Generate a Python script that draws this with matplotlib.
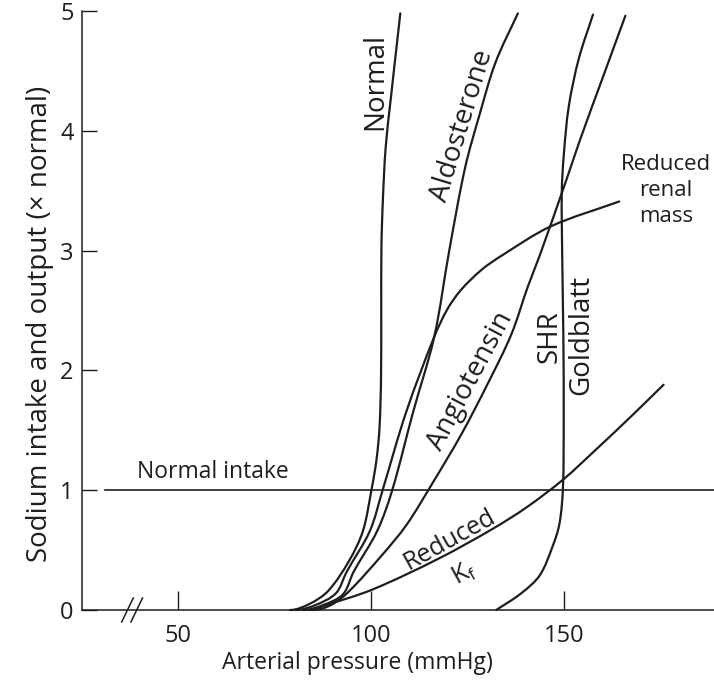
import math
import matplotlib
matplotlib.use("Agg")
import matplotlib.pyplot as plt
from matplotlib.path import Path
from matplotlib.patches import PathPatch

plt.rcParams['font.family'] = ['Open Sans', 'DejaVu Sans']
plt.rcParams['mathtext.fontset'] = 'custom'
plt.rcParams['mathtext.rm'] = 'Open Sans'

# ---- data ----
normal_x = [79.0, 84.0, 88.9, 94.3, 97.9, 100.1, 101.4, 102.2, 102.6, 102.7, 103.1, 103.8, 105.1, 107.6]
normal_y = [0.0, 0.05, 0.16, 0.41, 0.66, 1.00, 1.25, 1.52, 1.96, 3.02, 3.44, 3.86, 4.26, 4.98]

aldo_x = [82.4, 87.5, 92.7, 95.5, 101.6, 105.5, 110.9, 116.4, 120.3, 124.4, 128.3, 132.3, 138.1]
aldo_y = [0.0, 0.04, 0.13, 0.32, 0.66, 1.00, 1.65, 2.28, 3.00, 3.69, 4.15, 4.57, 4.98]

rrm_x = [80.4, 85.5, 90.9, 93.7, 99.7, 103.0, 109.1, 116.4, 119.8, 123.3, 128.7, 134.0, 146.5, 164.4]
rrm_y = [0.0, 0.04, 0.14, 0.32, 0.66, 1.00, 1.65, 2.28, 2.51, 2.67, 2.84, 2.96, 3.20, 3.41]

angio_x = [85.0, 89.5, 94.1, 102.9, 109.2, 115.6, 123.5, 130.3, 136.4, 140.7, 143.9, 150.8, 154.3, 160.2, 166.0]
angio_y = [0.0, 0.04, 0.15, 0.46, 0.71, 1.04, 1.47, 1.89, 2.30, 2.70, 2.97, 3.60, 3.93, 4.45, 4.96]

kf_x = [84.0, 88.2, 100.3, 117.6, 131.7, 140.5, 149.9, 158.4, 167.3, 175.9]
kf_y = [0.0, 0.04, 0.17, 0.43, 0.68, 0.86, 1.09, 1.34, 1.61, 1.88]

gold_x = [132.5, 139.0, 143.8, 147.1, 148.9, 149.8, 150.0, 149.9, 149.6, 149.5, 150.0, 151.3, 153.9, 157.6]
gold_y = [0.0, 0.14, 0.29, 0.53, 0.72, 1.02, 1.60, 2.30, 2.98, 3.49, 3.79, 4.20, 4.60, 4.97]

intake_x = [31.0, 189.0]
intake_y = [1.0, 1.0]

x_ticks = [50, 100, 150]
y_ticks = [0, 1, 2, 3, 4, 5]

ink = '#1e1e1e'

# approximate on-screen scale of one data unit (used only to shape the spline)
SX, SY = 3.856, 119.8


def smooth_path(xs, ys, flat_start=True):
    """Chord-length Hermite spline through the read points, as cubic Bezier segments."""
    P = [(x * SX, y * SY) for x, y in zip(xs, ys)]
    n = len(P)
    d = [math.hypot(P[i + 1][0] - P[i][0], P[i + 1][1] - P[i][1]) for i in range(n - 1)]
    m = []
    for i in range(n):
        if i == 0:
            if flat_start:
                m.append((1.0, 0.0))
            else:
                m.append(((P[1][0] - P[0][0]) / d[0], (P[1][1] - P[0][1]) / d[0]))
        elif i == n - 1:
            m.append(((P[i][0] - P[i - 1][0]) / d[i - 1], (P[i][1] - P[i - 1][1]) / d[i - 1]))
        else:
            s = d[i - 1] + d[i]
            m.append(((P[i + 1][0] - P[i - 1][0]) / s, (P[i + 1][1] - P[i - 1][1]) / s))
    verts = [(xs[0], ys[0])]
    codes = [Path.MOVETO]
    for i in range(n - 1):
        c1 = (P[i][0] + m[i][0] * d[i] / 3, P[i][1] + m[i][1] * d[i] / 3)
        c2 = (P[i + 1][0] - m[i + 1][0] * d[i] / 3, P[i + 1][1] - m[i + 1][1] * d[i] / 3)
        verts += [(c1[0] / SX, c1[1] / SY), (c2[0] / SX, c2[1] / SY), (xs[i + 1], ys[i + 1])]
        codes += [Path.CURVE4] * 3
    return Path(verts, codes)


fig = plt.figure(figsize=(7.14, 6.81), dpi=100)
ax = fig.add_axes([82/714, (681-610)/681, (714-82)/714, 611/681])
ax.set_xlim(25, 189)
ax.set_ylim(0, 5.1)

for xs, ys, flat in [(normal_x, normal_y, True), (aldo_x, aldo_y, True), (rrm_x, rrm_y, True),
                     (angio_x, angio_y, True), (kf_x, kf_y, True), (gold_x, gold_y, False)]:
    ax.add_patch(PathPatch(smooth_path(xs, ys, flat), facecolor='none', edgecolor=ink,
                           lw=1.6, capstyle='round', clip_on=False))
ax.plot(intake_x, intake_y, color=ink, lw=1.2, clip_on=False)

for s in ['top', 'right']:
    ax.spines[s].set_visible(False)
for s in ['left', 'bottom']:
    ax.spines[s].set_color(ink)
    ax.spines[s].set_linewidth(1.1)
ax.spines['left'].set_bounds(0, 5)

ax.set_xticks(x_ticks)
ax.set_yticks(y_ticks)
ax.tick_params(axis='x', direction='in', length=14, width=1.0, pad=10,
               labelsize=17, colors=ink)
ax.tick_params(axis='y', direction='in', length=11, width=1.0, pad=6,
               labelsize=17, colors=ink)

# axis break marks
for bx in [36.8, 39.2]:
    ax.plot([bx - 1.5, bx + 1.5], [-0.1, 0.1], color=ink, lw=1.1, clip_on=False)

fig.text(357/714, 1 - 663/681, 'Arterial pressure (mmHg)', fontsize=16.5, color=ink,
         ha='center', va='center')
fig.text(40/714, 1 - 324/681, 'Sodium intake and output (× normal)', fontsize=20,
         color=ink, rotation=90, ha='center', va='center')

fs = 20
ax.text(101.2, 4.41, 'Normal', rotation=90, ha='center', va='center', fontsize=fs, color=ink)
ax.text(123.7, 4.04, 'Aldosterone', rotation=73, ha='center', va='center', fontsize=fs, color=ink)
ax.text(125.9, 1.91, 'Angiotensin', rotation=62, ha='center', va='center', fontsize=fs, color=ink)
ax.text(146.3, 2.28, 'SHR', rotation=90, ha='center', va='center', fontsize=fs, color=ink)
ax.text(154.6, 2.30, 'Goldblatt', rotation=90, ha='center', va='center', fontsize=fs, color=ink)
ax.text(176.6, 3.50, 'Reduced\nrenal\nmass', ha='center', va='center', fontsize=16,
        color=ink, linespacing=1.3)
ax.text(120.5, 0.59, 'Reduced', rotation=29, ha='center', va='center', fontsize=18, color=ink)
ax.text(124.3, 0.30, r'K$_\mathrm{f}$', rotation=29, ha='center', va='center', fontsize=18, color=ink)
ax.text(39.2, 1.15, 'Normal intake', ha='left', va='center', fontsize=16.5, color=ink)

fig.savefig('out.png', dpi=100)
